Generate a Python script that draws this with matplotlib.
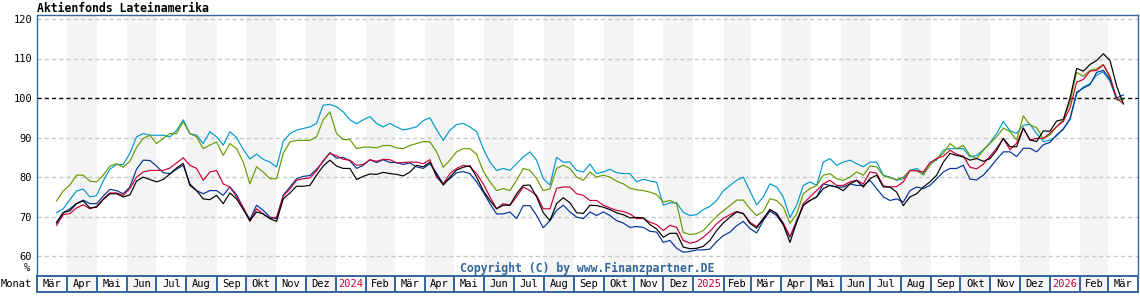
import numpy as np
import pandas as pd
import matplotlib
matplotlib.use("Agg")
import matplotlib.pyplot as plt

plt.rcParams['font.family'] = ['DejaVu Sans Mono']
plt.rcParams['lines.scale_dashes'] = False

START, ENDE = '2023-03-21', '2026-03-17'

schwarz = [68.4, 71.0, 71.5, 73.3, 74.0, 72.2, 72.4, 74.3, 75.8, 75.8, 75.0, 75.5, 79.0, 80.0, 79.4, 78.8, 79.4, 80.8, 82.3, 83.5, 77.9, 76.6, 74.5, 74.3, 75.4, 73.3,
           76.0, 74.5, 71.8, 69.0, 71.2, 70.7, 69.5, 68.8, 74.5, 76.0, 77.7, 77.7, 77.9, 80.5, 82.8, 84.3, 82.8, 82.2, 82.2, 79.4, 80.2, 80.8, 80.7, 81.2, 80.9, 80.7, 80.3, 81.3,
           83.0, 82.6, 83.8, 80.5, 78.0, 80.0, 81.8, 82.5, 82.9, 80.0, 76.6, 74.1, 72.0, 72.9, 72.9, 75.8, 77.9, 78.0, 75.0, 71.0, 69.0, 73.3, 74.8, 73.5, 71.0, 70.8, 72.9, 72.8, 72.4,
           71.8, 71.0, 70.5, 69.7, 69.8, 69.7, 68.0, 66.9, 64.8, 65.8, 65.8, 62.3, 61.9, 62.0, 62.5, 64.0, 66.5, 68.4, 69.9, 71.2, 70.8, 68.3, 67.1, 69.5, 71.8, 70.8, 68.0, 63.5,
           68.6, 72.9, 74.1, 75.0, 77.1, 77.9, 77.5, 76.6, 78.3, 79.2, 77.5, 79.6, 80.5, 77.5, 77.5, 76.2, 72.8, 75.0, 75.8, 77.5, 78.8, 80.5, 83.8, 86.0, 85.5, 85.1, 84.3, 84.7, 84.0,
           84.7, 86.8, 89.8, 87.7, 87.7, 92.4, 89.4, 89.0, 91.7, 91.6, 94.2, 94.6, 100.0, 107.5, 106.8, 108.5, 109.5, 111.2, 109.5, 103.0, 98.5]

blau = [68.6, 71.0, 72.0, 73.3, 74.2, 73.3, 73.3, 75.2, 76.9, 76.6, 75.8, 77.5, 82.0, 84.3, 84.2, 82.8, 81.1, 80.9, 82.0, 83.0, 78.3, 76.6, 75.8, 76.6, 76.6, 75.4,
        77.5, 75.6, 72.2, 69.3, 72.9, 71.6, 69.9, 69.5, 75.4, 77.5, 79.6, 80.2, 80.4, 82.0, 84.0, 86.2, 84.8, 85.0, 84.1, 82.2, 83.0, 84.4, 83.7, 84.4, 83.7, 83.7, 83.2, 83.6,
        82.6, 82.2, 83.4, 81.0, 78.3, 79.6, 81.1, 81.4, 80.9, 78.8, 76.2, 73.3, 70.7, 70.7, 71.2, 69.5, 72.8, 72.8, 70.3, 67.2, 69.0, 71.6, 72.9, 71.2, 69.9, 69.5, 71.2, 70.3, 71.2,
        70.3, 69.0, 68.4, 67.3, 67.5, 67.3, 66.3, 66.1, 63.5, 64.0, 62.0, 61.0, 61.2, 61.6, 61.6, 61.8, 63.7, 65.2, 66.1, 67.7, 68.8, 67.0, 65.9, 69.0, 71.4, 70.3, 68.0, 64.8,
        69.0, 72.9, 74.1, 75.0, 78.3, 77.9, 77.5, 77.5, 78.3, 77.9, 77.9, 79.2, 77.1, 75.0, 74.1, 74.5, 73.7, 76.6, 77.5, 77.1, 77.9, 79.6, 81.3, 82.2, 82.2, 83.0, 79.5, 79.3, 80.5,
        82.4, 84.5, 86.4, 86.4, 85.2, 87.3, 87.3, 86.4, 88.2, 88.8, 90.7, 92.1, 94.8, 101.5, 102.5, 103.4, 106.5, 107.0, 104.6, 100.0, 100.8]

rot = [67.8, 70.5, 70.8, 72.2, 73.0, 72.0, 72.6, 74.5, 76.0, 76.0, 75.4, 77.1, 80.0, 81.3, 81.7, 81.7, 81.7, 82.3, 83.6, 84.9, 83.0, 82.2, 79.2, 81.3, 81.7, 78.3,
       77.5, 75.0, 72.4, 68.8, 72.0, 70.7, 69.5, 69.9, 75.2, 77.0, 79.2, 79.6, 79.8, 81.6, 84.2, 86.0, 85.4, 84.5, 84.3, 83.0, 83.2, 84.4, 84.0, 84.5, 84.4, 83.6, 83.7, 83.8,
       83.8, 83.4, 84.4, 80.0, 78.3, 80.9, 82.2, 83.0, 82.6, 80.9, 78.3, 75.0, 72.0, 73.3, 72.9, 75.0, 77.5, 76.6, 75.4, 72.0, 72.0, 77.2, 77.5, 77.5, 75.8, 75.4, 74.1, 74.1, 72.9,
       72.2, 71.6, 71.3, 70.7, 69.5, 69.6, 68.6, 68.0, 66.5, 67.8, 67.3, 64.0, 63.3, 63.7, 64.8, 66.3, 68.2, 69.6, 70.5, 71.3, 70.8, 68.6, 67.5, 69.5, 71.8, 70.8, 68.4, 65.0,
       68.6, 73.3, 75.0, 76.6, 78.3, 79.2, 77.9, 77.9, 78.8, 79.2, 78.3, 81.3, 81.0, 77.8, 77.5, 77.6, 78.8, 81.7, 81.6, 81.3, 83.6, 84.7, 85.3, 86.8, 85.8, 85.3, 82.5, 82.1, 83.3,
       85.3, 87.3, 89.8, 86.9, 88.6, 92.4, 89.4, 89.8, 89.8, 91.1, 92.8, 94.1, 97.5, 104.0, 104.7, 106.8, 107.0, 108.4, 105.5, 99.8, 98.7]

gruen = [74.0, 76.5, 78.0, 80.5, 80.5, 79.0, 78.8, 80.5, 82.8, 83.4, 82.5, 84.0, 87.5, 89.8, 90.6, 88.5, 89.8, 91.0, 91.0, 94.0, 91.0, 90.2, 87.2, 88.1, 88.9, 85.5,
         88.5, 87.2, 83.8, 78.3, 82.6, 81.3, 79.6, 79.6, 86.0, 88.9, 89.3, 89.3, 89.3, 90.2, 94.5, 96.5, 91.0, 89.5, 89.5, 87.2, 87.6, 87.6, 87.4, 88.0, 88.0, 87.4, 87.2, 88.0,
         88.5, 89.0, 88.9, 86.4, 82.5, 84.3, 86.4, 87.2, 87.2, 85.8, 81.5, 78.8, 76.6, 77.1, 76.6, 79.2, 82.2, 81.7, 79.6, 76.6, 77.0, 82.2, 83.0, 82.2, 80.0, 79.2, 81.3, 80.0, 80.5,
         80.0, 79.0, 78.3, 77.2, 76.8, 76.6, 76.2, 75.6, 73.7, 74.1, 73.3, 66.0, 65.5, 65.7, 66.5, 68.3, 70.1, 71.5, 72.8, 74.2, 74.2, 72.0, 70.3, 71.3, 74.5, 74.1, 72.4, 68.3,
         70.7, 75.8, 77.1, 77.9, 80.5, 80.9, 79.6, 79.2, 80.0, 81.3, 80.5, 82.8, 82.6, 80.4, 79.8, 79.4, 80.0, 81.6, 81.7, 80.5, 83.0, 84.7, 86.0, 88.5, 87.2, 88.0, 85.5, 84.7, 86.8,
         88.5, 90.2, 92.4, 91.5, 89.4, 95.5, 93.2, 92.5, 89.7, 90.7, 92.8, 94.5, 99.0, 106.5, 105.5, 107.0, 107.4, 108.5, 105.1, 99.8, 99.6]

hellblau = [71.0, 72.0, 74.3, 76.5, 77.0, 75.0, 75.3, 79.0, 82.0, 83.2, 83.2, 86.0, 90.2, 91.0, 90.6, 90.6, 90.6, 90.2, 91.8, 94.5, 91.0, 90.6, 88.5, 91.5, 90.2, 88.1,
            91.5, 90.0, 87.0, 84.6, 85.8, 84.5, 83.8, 82.6, 89.0, 91.0, 91.9, 92.3, 92.7, 93.6, 98.2, 98.4, 97.8, 96.5, 94.5, 93.5, 94.5, 95.3, 93.6, 92.7, 93.6, 92.7, 91.9, 92.3,
            92.7, 94.3, 95.0, 92.0, 89.3, 91.9, 93.3, 93.6, 92.7, 91.5, 87.2, 83.8, 81.7, 82.2, 81.7, 83.4, 85.1, 86.4, 84.3, 79.6, 78.0, 85.0, 83.8, 83.8, 81.7, 81.3, 83.3, 80.9, 81.3,
            82.0, 81.1, 80.9, 80.9, 78.8, 79.5, 79.0, 78.7, 72.9, 73.5, 73.5, 71.1, 70.3, 70.5, 71.8, 72.6, 74.1, 76.5, 77.9, 79.2, 80.0, 76.5, 73.0, 75.0, 78.3, 77.5, 75.0, 69.8,
            72.9, 77.9, 78.8, 77.9, 83.8, 84.7, 83.0, 83.8, 84.3, 83.4, 82.6, 83.8, 83.8, 80.5, 80.0, 79.2, 79.6, 81.7, 82.2, 80.9, 83.8, 84.3, 86.8, 87.2, 87.2, 87.2, 85.1, 85.5, 86.9,
            88.7, 91.0, 94.1, 91.7, 91.1, 93.1, 93.4, 91.0, 89.0, 89.3, 90.4, 92.3, 94.5, 101.0, 102.8, 103.6, 105.8, 106.6, 104.2, 99.5, 99.7]

MONATE = ['Jan', 'Feb', 'Mär', 'Apr', 'Mai', 'Jun', 'Jul', 'Aug', 'Sep', 'Okt', 'Nov', 'Dez']
Y_TICKS = [60, 70, 80, 90, 100, 110, 120]

RAHMEN = '#336699'
GRAU = '#f4f4f4'

datum = pd.date_range(START, ENDE, periods=len(schwarz))
monatsanfang = pd.date_range('2023-03-01', '2026-04-01', freq='MS')

W, H = 1140, 300
L, R, T, B = 37, 1138, 15, 276

fig = plt.figure(figsize=(W / 100, H / 100), dpi=100)
ax = fig.add_axes([L / W, 1 - B / H, (R - L) / W, (B - T) / H])
axm = fig.add_axes([L / W, 1 - 292 / H, (R - L) / W, (292 - B) / H])

# Monatsstreifen
for a, b in zip(monatsanfang[:-1], monatsanfang[1:]):
    if a.month % 2 == 0:
        ax.axvspan(a, b, color=GRAU, lw=0, zorder=0)
        axm.axvspan(a, b, color=GRAU, lw=0, zorder=0)
    mitte = a + (b - a) / 2
    if a.month == 1:
        txt, farbe = str(a.year), '#cc0033'
    else:
        txt, farbe = MONATE[a.month - 1], 'black'
    axm.text(mitte, 0.5, txt, ha='center', va='center', fontsize=7.5, color=farbe,
             transform=axm.get_xaxis_transform())
for a in monatsanfang[1:-1]:
    axm.axvline(a, color=RAHMEN, lw=1.4)

# Gitter
for y in Y_TICKS:
    if y == 100:
        ax.axhline(y, color='black', lw=1.0, dashes=(3, 2.2), zorder=1)
    else:
        ax.axhline(y, color='#c8c8c8', lw=1.0, dashes=(3, 2.2), zorder=1)

# Kurven
ax.plot(datum, hellblau, color='#0099cc', lw=0.85, zorder=3)
ax.plot(datum, gruen, color='#669900', lw=0.85, zorder=3)
ax.plot(datum, blau, color='#003399', lw=0.85, zorder=4)
ax.plot(datum, rot, color='#cc0033', lw=0.85, zorder=4)
ax.plot(datum, schwarz, color='black', lw=0.85, zorder=5)

for a_ in (ax, axm):
    a_.set_xlim(monatsanfang[0], monatsanfang[-1])
    a_.set_xticks([])
ax.set_ylim(55, 121)
ax.set_yticks(Y_TICKS)
ax.tick_params(axis='y', length=0, pad=3.5, labelsize=7.5)
axm.set_yticks([])
axm.set_ylim(0, 1)

for s in ax.spines.values():
    s.set_color(RAHMEN)
    s.set_linewidth(1.0)
ax.spines['bottom'].set_visible(False)
for s in axm.spines.values():
    s.set_color(RAHMEN)
    s.set_linewidth(1.4)

ax.text(0.5, 0.03, 'Copyright (C) by www.Finanzpartner.DE', transform=ax.transAxes,
        ha='center', va='center', fontsize=8.3, fontweight='bold', color=RAHMEN)

fig.text(L / W, 1 - 8.5 / H, 'Aktienfonds Lateinamerika', ha='left', va='center',
         fontsize=8.3, fontweight='bold')
fig.text(27 / W, 1 - 268 / H, '%', ha='center', va='center', fontsize=7.5)
fig.text(1 / W, 1 - 284 / H, 'Monat', ha='left', va='center', fontsize=7.5)

fig.savefig('out.png', dpi=100)
